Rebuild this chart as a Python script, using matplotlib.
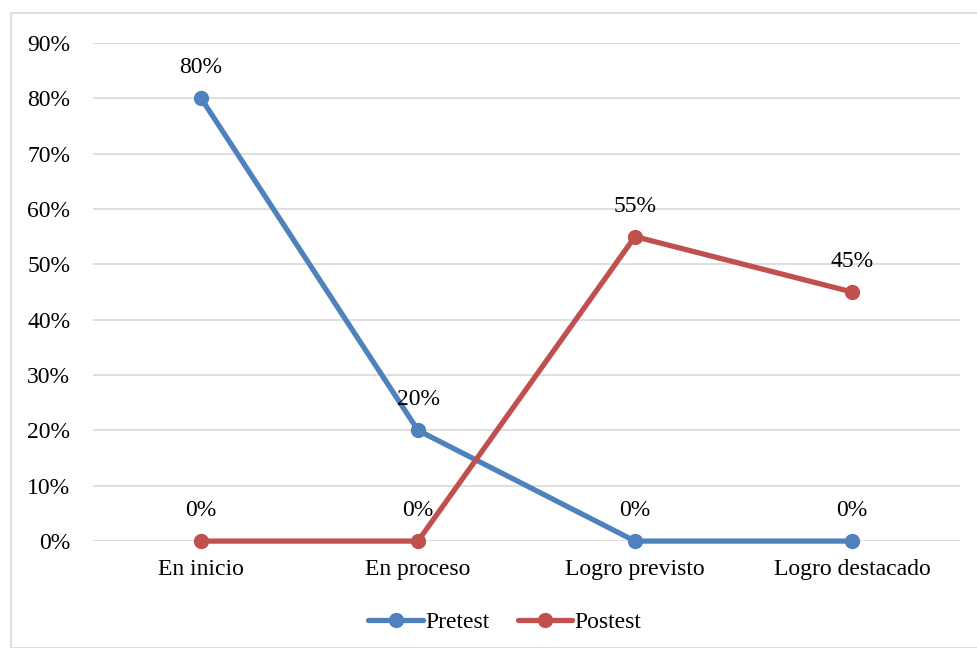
import numpy as np
import matplotlib.pyplot as plt
from matplotlib.patches import Rectangle

plt.rcParams['font.family'] = ['Liberation Serif', 'DejaVu Serif']

# Data
categorias = ["En inicio", "En proceso", "Logro previsto", "Logro destacado"]
pretest = [80, 20, 0, 0]
postest = [0, 0, 55, 45]
yticks = [0, 10, 20, 30, 40, 50, 60, 70, 80, 90]

c_pre = "#4f81bd"
c_post = "#c0504d"
fs = 17

fig = plt.figure(figsize=(9.77, 6.48), dpi=100)
ax = fig.add_axes([0.0947, 0.165, 0.8884, 0.7689])

# chart border
fig.patches.append(Rectangle((11 / 977, 0), 1, 1 - 13 / 648, transform=fig.transFigure,
                             fill=False, edgecolor="#d9d9d9", linewidth=1.2))

x = np.arange(len(categorias))
ax.plot(x, pretest, color=c_pre, lw=3.8, marker="o", ms=10, label="Pretest",
        solid_capstyle="round", zorder=3, clip_on=False)
ax.plot(x, postest, color=c_post, lw=3.8, marker="o", ms=10, label="Postest",
        solid_capstyle="round", zorder=3, clip_on=False)

for xi, v in zip(x, pretest):
    ax.annotate(f"{v}%", (xi, v), xytext=(0, 22), textcoords="offset points",
                ha="center", va="center", fontsize=fs)
for xi, v in zip(x, postest):
    ax.annotate(f"{v}%", (xi, v), xytext=(0, 22), textcoords="offset points",
                ha="center", va="center", fontsize=fs)

ax.set_xlim(-0.5, 3.5)
ax.set_ylim(0, 90)
ax.set_yticks(yticks)
ax.set_yticklabels([f"{t}%" for t in yticks], fontsize=fs)
ax.set_xticks(x)
ax.set_xticklabels(categorias, fontsize=fs)
ax.tick_params(axis="x", length=0, pad=13)
ax.tick_params(axis="y", length=0, pad=16)
ax.grid(axis="y", color="#d9d9d9", lw=1.2)
ax.set_axisbelow(True)
for s in ax.spines.values():
    s.set_visible(False)

ax.legend(loc="center", bbox_to_anchor=(0.475, -0.163), ncol=2, frameon=False,
          fontsize=fs, handlelength=2.3, handletextpad=0.1, columnspacing=1.2)

fig.savefig("out.png", dpi=100)
